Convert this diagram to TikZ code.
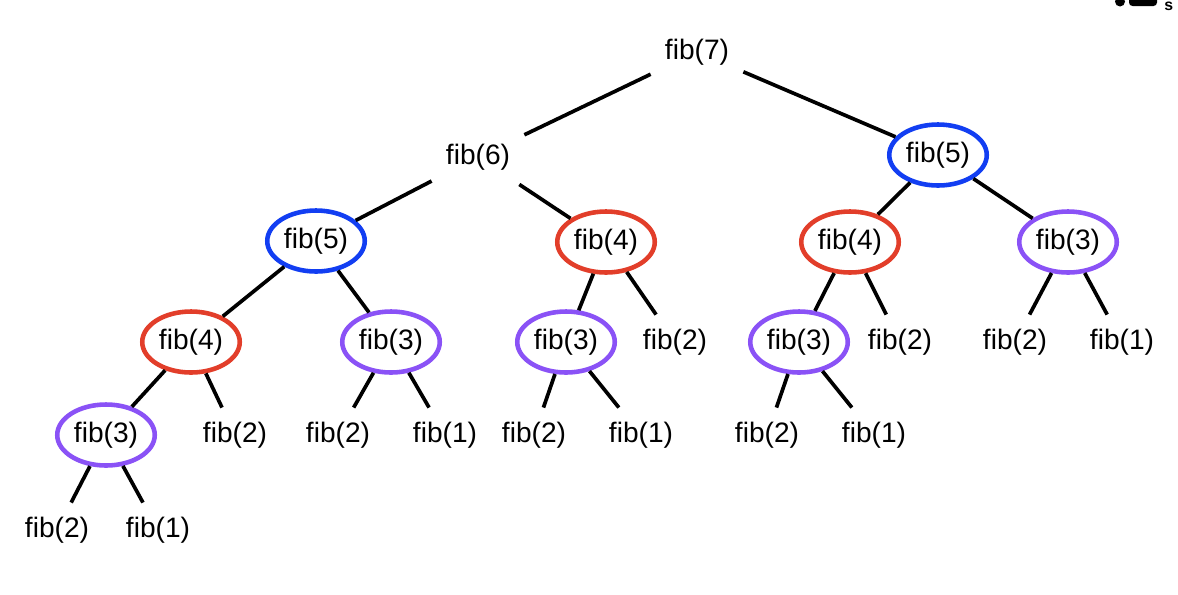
\documentclass[tikz,border=0pt]{standalone}
\usepackage{fontspec}
\setmainfont{Liberation Sans}
\usetikzlibrary{shapes.geometric}
\definecolor{memoblue}{RGB}{18,62,242}
\definecolor{memored}{RGB}{226,62,42}
\definecolor{memopurple}{RGB}{138,82,246}

\begin{document}
\begin{tikzpicture}[
    every node/.style={font=\fontsize{16pt}{18pt}\selectfont, inner sep=0.28cm},
    call/.style={ellipse, line width=2.6pt, inner sep=0pt, minimum width=1.95cm, minimum height=1.22cm},
    seen5/.style={call, draw=memoblue},
    seen4/.style={call, draw=memored},
    seen3/.style={call, draw=memopurple},
    edge/.style={line width=2.1pt}
  ]
    \useasboundingbox (0,0) rectangle (23.56,-11.88);

    % level 0 and 1
    \node (f7) at (13.94,-1.04) {fib(7)};
    \node (f6) at (9.56,-3.14) {fib(6)};
    \node[seen5] (f5r) at (18.76,-3.10) {fib(5)};

    % level 2
    \node[seen5] (f5l) at (6.32,-4.82) {fib(5)};
    \node[seen4] (f4m) at (12.12,-4.84) {fib(4)};
    \node[seen4] (f4r) at (17.00,-4.84) {fib(4)};
    \node[seen3] (f3r) at (21.36,-4.84) {fib(3)};

    % level 3
    \node[seen4] (f4l) at (3.82,-6.84) {fib(4)};
    \node[seen3] (f3a) at (7.82,-6.84) {fib(3)};
    \node[seen3] (f3b) at (11.32,-6.84) {fib(3)};
    \node (f2a) at (13.50,-6.84) {fib(2)};
    \node[seen3] (f3c) at (15.98,-6.84) {fib(3)};
    \node (f2b) at (18.00,-6.84) {fib(2)};
    \node (f2c) at (20.30,-6.84) {fib(2)};
    \node (f1a) at (22.44,-6.84) {fib(1)};

    % level 4
    \node[seen3] (f3l) at (2.12,-8.70) {fib(3)};
    \node (f2d) at (4.70,-8.70) {fib(2)};
    \node (f2e) at (6.76,-8.70) {fib(2)};
    \node (f1b) at (8.90,-8.70) {fib(1)};
    \node (f2f) at (10.68,-8.70) {fib(2)};
    \node (f1c) at (12.82,-8.70) {fib(1)};
    \node (f2g) at (15.34,-8.70) {fib(2)};
    \node (f1d) at (17.48,-8.70) {fib(1)};

    % level 5
    \node (f2h) at (1.14,-10.60) {fib(2)};
    \node (f1e) at (3.16,-10.60) {fib(1)};

    % edges
    \draw[edge] (f7) -- (f6);
    \draw[edge] (f7) -- (f5r);
    \draw[edge] (f6) -- (f5l);
    \draw[edge] (f6) -- (f4m);
    \draw[edge] (f5r) -- (f4r);
    \draw[edge] (f5r) -- (f3r);
    \draw[edge] (f5l) -- (f4l);
    \draw[edge] (f5l) -- (f3a);
    \draw[edge] (f4m) -- (f3b);
    \draw[edge] (f4m) -- (f2a);
    \draw[edge] (f4r) -- (f3c);
    \draw[edge] (f4r) -- (f2b);
    \draw[edge] (f3r) -- (f2c);
    \draw[edge] (f3r) -- (f1a);
    \draw[edge] (f4l) -- (f3l);
    \draw[edge] (f4l) -- (f2d);
    \draw[edge] (f3a) -- (f2e);
    \draw[edge] (f3a) -- (f1b);
    \draw[edge] (f3b) -- (f2f);
    \draw[edge] (f3b) -- (f1c);
    \draw[edge] (f3c) -- (f2g);
    \draw[edge] (f3c) -- (f1d);
    \draw[edge] (f3l) -- (f2h);
    \draw[edge] (f3l) -- (f1e);

    % corner mark
    \fill (22.40,-0.03) circle (0.1);
    \fill[rounded corners=2pt] (22.58,0.1) rectangle (23.14,-0.12);
    \node[inner sep=0pt, font=\bfseries\fontsize{9pt}{10pt}\selectfont, anchor=west] (mark) at (23.28,-0.12) {s};
\end{tikzpicture}
\end{document}
